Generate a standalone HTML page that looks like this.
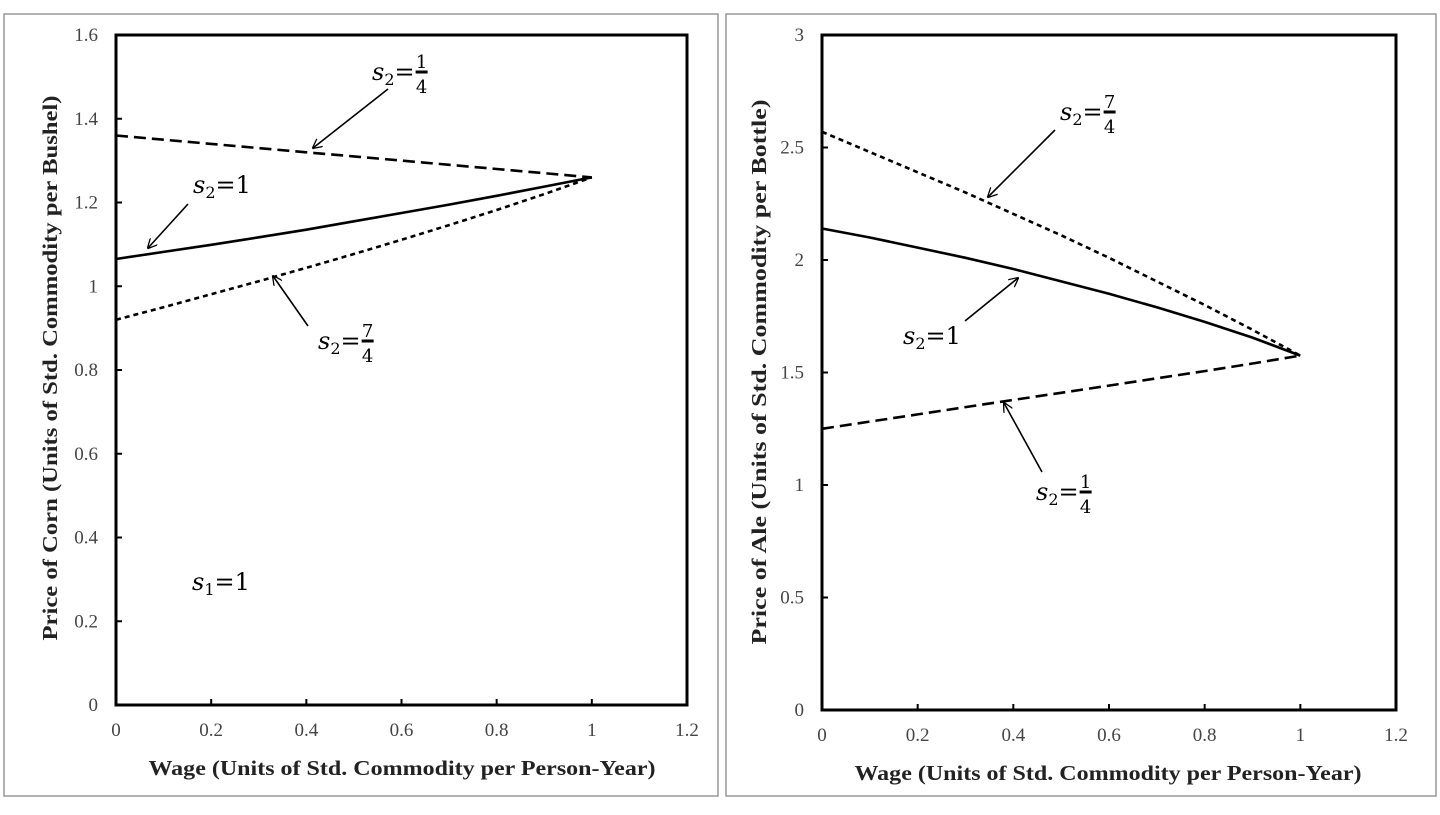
<!DOCTYPE html>
<html><head><meta charset="utf-8"><style>
body{margin:0;background:#fff;width:1440px;height:810px;overflow:hidden}
svg text{font-family:"Liberation Serif",serif}
.tick{font-size:19px;fill:#444}
.title{font-size:21px;font-weight:bold;fill:#222}
.lab{font-size:24px;fill:#000;font-family:"DejaVu Serif","Liberation Serif",serif}
.frac{font-size:18px;fill:#000;font-family:"DejaVu Serif","Liberation Serif",serif}
</style></head><body>
<svg id="chart" width="1440" height="810" xmlns="http://www.w3.org/2000/svg">
<defs><marker id="ah" markerWidth="10" markerHeight="10" refX="9" refY="5" orient="auto" markerUnits="userSpaceOnUse"><path d="M0,0 L10,5 L0,10" fill="none" stroke="#000" stroke-width="1.3"/></marker></defs>
</svg>
<script>
const xs = [0,0.1,0.2,0.3,0.4,0.5,0.6,0.7,0.8,0.9,1];
const cornQuarter = [1.360,1.350,1.340,1.330,1.320,1.310,1.300,1.290,1.280,1.270,1.260];
const cornOne = [1.065,1.082,1.099,1.117,1.135,1.155,1.175,1.195,1.216,1.238,1.260];
const cornSevenQ = [0.920,0.950,0.981,1.012,1.044,1.077,1.111,1.146,1.182,1.220,1.260];
const aleSevenQ = [2.570,2.480,2.390,2.300,2.205,2.110,2.010,1.905,1.800,1.690,1.575];
const aleOne = [2.140,2.100,2.055,2.010,1.960,1.905,1.850,1.790,1.725,1.655,1.575];
const aleQuarter = [1.250,1.282,1.314,1.346,1.378,1.410,1.442,1.474,1.506,1.540,1.575];
const xTicks = [0,0.2,0.4,0.6,0.8,1,1.2];
const cornYTicks = [0,0.2,0.4,0.6,0.8,1,1.2,1.4,1.6];
const aleYTicks = [0,0.5,1,1.5,2,2.5,3];

const svg=document.getElementById('chart');
const NS='http://www.w3.org/2000/svg';
function mk(tag,attrs,parent){const e=document.createElementNS(NS,tag);for(const k in attrs)e.setAttribute(k,attrs[k]);(parent||svg).appendChild(e);return e;}

function panel(p){
  const g=mk('g',{});
  
  
  const fr=mk('rect',{x:p.bx,y:14,width:p.bw,height:782,fill:'none',stroke:'#999','stroke-width':1.5},g);
  
  
  const X=v=>p.x0+(v/1.2)*(p.x1-p.x0);
  const Y=v=>p.y1-(v/p.ymax)*(p.y1-p.y0);
  const box=mk('rect',{x:p.x0,y:p.y0,width:p.x1-p.x0,height:p.y1-p.y0,fill:'none',stroke:'#000','stroke-width':3},g);
  
  
  xTicks.forEach(t=>{
    const l=mk('line',{x1:X(t),x2:X(t),y1:p.y1,y2:p.y1-6,stroke:'#000','stroke-width':2},g);
    
    
    const tx=mk('text',{x:X(t),y:p.y1+31,'text-anchor':'middle',class:'tick'},g);
    tx.textContent=t;
    
    
  });
  p.yt.forEach(t=>{
    const l=mk('line',{x1:p.x0,x2:p.x0+6,y1:Y(t),y2:Y(t),stroke:'#000','stroke-width':2},g);
    
    
    const tx=mk('text',{x:p.x0-18,y:Y(t)+6,'text-anchor':'end',class:'tick'},g);
    tx.textContent=t;
    
    
  });
  const xt=mk('text',{x:p.xtx,y:p.y1+70,'text-anchor':'middle',class:'title',textLength:507,lengthAdjust:'spacingAndGlyphs'},g);
  xt.textContent='Wage (Units of Std. Commodity per Person-Year)';
  
  
  const cy=p.ytc;
  const yt=mk('text',{x:p.ytx,y:cy,'text-anchor':'middle',class:'title',textLength:p.ytl,lengthAdjust:'spacingAndGlyphs',transform:`rotate(-90 ${p.ytx} ${cy})`},g);
  yt.textContent=p.ytitle;
  
  
  p.series.forEach(s=>{
    const d=xs.map((x,i)=>(i?'L':'M')+X(x).toFixed(1)+','+Y(s.v[i]).toFixed(1)).join(' ');
    const pa=mk('path',{d:d,fill:'none',stroke:'#000','stroke-width':2.6,'stroke-dasharray':s.dash},g);
    
    
  });
  p.notes.forEach(n=>{
    if(n.a){
      const a=mk('line',{x1:n.a[0],y1:n.a[1],x2:n.a[2],y2:n.a[3],stroke:'#000','stroke-width':1.6,'marker-end':'url(#ah)'},g);
      
      
    }
    const t=mk('text',{x:n.x,y:n.y,class:'lab'},g);
    
    
    const s1=mk('tspan',{'font-style':'italic'},t);s1.textContent='s';
    const s2=mk('tspan',{dy:5,'font-size':16},t);s2.textContent=n.sub;
    const s3=mk('tspan',{dy:-5},t);s3.textContent='=';
    if(n.frac){
      const fx=n.x+t.getComputedTextLength()+1;
      mk('line',{x1:fx,x2:fx+12,y1:n.y-8,y2:n.y-8,stroke:'#000','stroke-width':3},g);
      const nu=mk('text',{x:fx+6,y:n.y-12,'text-anchor':'middle',class:'frac'},g);nu.textContent=n.frac[0];
      const de=mk('text',{x:fx+6,y:n.y+13,'text-anchor':'middle',class:'frac'},g);de.textContent=n.frac[1];
    } else {const s4=mk('tspan',{},t);s4.textContent=n.val;}
  });
}

panel({name:'corn-panel',bx:4,bw:714,x0:116,x1:687,y0:35,y1:705,ymax:1.6,yt:cornYTicks,xtx:402,ytx:57,ytc:368,ytl:545,
  ytitle:'Price of Corn (Units of Std. Commodity per Bushel)',
  series:[{name:'corn-s2-quarter-line',v:cornQuarter,dash:'12 6'},{name:'corn-s2-one-line',v:cornOne,dash:'none'},{name:'corn-s2-seven-quarters-line',v:cornSevenQ,dash:'5 4'}],
  notes:[{name:'corn-label-s2-quarter',x:372,y:80,sub:'2',frac:['1','4'],a:[388,89,313,148]},
         {name:'corn-label-s2-one',x:193,y:193,sub:'2',val:'1',a:[188,204,148,248]},
         {name:'corn-label-s2-seven-quarters',x:318,y:349,sub:'2',frac:['7','4'],a:[308,326,273,276]},
         {name:'corn-label-s1-one',x:192,y:590,sub:'1',val:'1'}]});

panel({name:'ale-panel',bx:726,bw:710,x0:822,x1:1396,y0:35,y1:710,ymax:3,yt:aleYTicks,xtx:1108,ytx:766,ytc:372,ytl:545,
  ytitle:'Price of Ale (Units of Std. Commodity per Bottle)',
  series:[{name:'ale-s2-seven-quarters-line',v:aleSevenQ,dash:'5 4'},{name:'ale-s2-one-line',v:aleOne,dash:'none'},{name:'ale-s2-quarter-line',v:aleQuarter,dash:'12 6'}],
  notes:[{name:'ale-label-s2-seven-quarters',x:1060,y:120,sub:'2',frac:['7','4'],a:[1055,130,988,197]},
         {name:'ale-label-s2-one',x:903,y:344,sub:'2',val:'1',a:[965,321,1018,278]},
         {name:'ale-label-s2-quarter',x:1036,y:500,sub:'2',frac:['1','4'],a:[1042,472,1004,403]}]});
</script>
</body></html>
